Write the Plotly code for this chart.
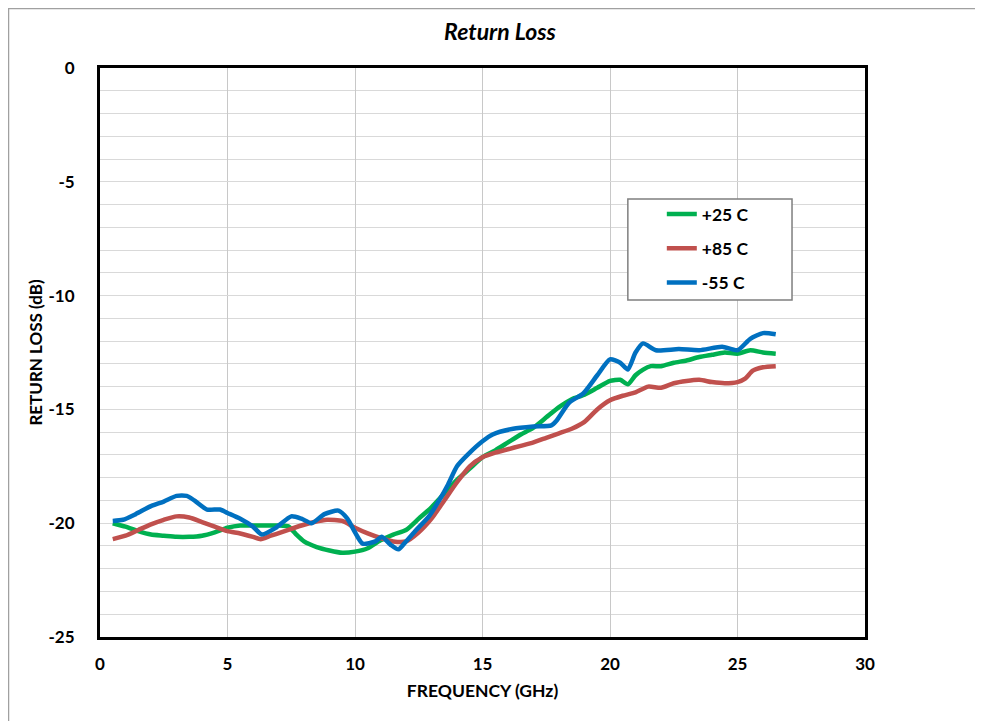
import plotly.graph_objects as go

# ---------------- data ----------------
freq_25 = [0.5, 1.0, 1.5, 2.0, 2.5, 3.0, 3.5, 4.0, 4.5, 5.0, 5.5, 6.0, 6.5, 7.0, 7.4, 7.7, 8.0, 8.5,
           9.0, 9.5, 10.0, 10.5, 11.0, 11.5, 12.0, 12.5, 13.0, 13.5, 14.0, 14.5, 15.0, 15.5, 16.0,
           16.5, 17.0, 17.5, 18.0, 18.5, 19.0, 19.5, 20.0, 20.4, 20.7, 21.0, 21.3, 21.6, 22.0, 22.5,
           23.0, 23.5, 24.0, 24.5, 25.0, 25.5, 26.0, 26.5]
rl_25 = [-20.0, -20.15, -20.35, -20.5, -20.55, -20.6, -20.6, -20.55, -20.4, -20.2, -20.1, -20.1,
         -20.1, -20.1, -20.15, -20.5, -20.8, -21.05, -21.2, -21.3, -21.25, -21.1, -20.75, -20.5,
         -20.3, -19.8, -19.3, -18.7, -18.1, -17.6, -17.1, -16.8, -16.45, -16.1, -15.8, -15.35,
         -14.9, -14.55, -14.35, -14.05, -13.75, -13.7, -13.9, -13.5, -13.25, -13.1, -13.1, -12.95,
         -12.85, -12.7, -12.6, -12.5, -12.55, -12.4, -12.5, -12.55]

freq_85 = [0.5, 1.0, 1.5, 2.0, 2.5, 3.0, 3.5, 4.0, 4.5, 5.0, 5.5, 6.0, 6.3, 6.7, 7.1, 7.5, 7.9, 8.4,
           8.9, 9.5, 10.0, 10.5, 11.0, 11.5, 12.0, 12.5, 13.0, 13.5, 14.0, 14.5, 15.0, 15.5, 16.0,
           16.5, 17.0, 17.5, 18.0, 18.5, 19.0, 19.5, 20.0, 20.5, 21.0, 21.5, 22.0, 22.5, 23.0, 23.5,
           24.0, 24.5, 25.0, 25.3, 25.6, 26.0, 26.5]
rl_85 = [-20.7, -20.55, -20.3, -20.05, -19.85, -19.7, -19.75, -19.95, -20.15, -20.35, -20.45, -20.6,
         -20.7, -20.55, -20.4, -20.25, -20.1, -19.95, -19.85, -19.9, -20.2, -20.45, -20.65, -20.8,
         -20.8, -20.4, -19.8, -19.0, -18.2, -17.5, -17.1, -16.9, -16.75, -16.6, -16.45, -16.25,
         -16.05, -15.85, -15.55, -15.0, -14.6, -14.4, -14.25, -14.0, -14.05, -13.85, -13.75, -13.7,
         -13.8, -13.85, -13.8, -13.65, -13.3, -13.15, -13.1]

freq_m55 = [0.5, 0.9, 1.4, 2.0, 2.5, 3.0, 3.4, 3.7, 4.2, 4.7, 5.0, 5.5, 6.0, 6.35, 6.9, 7.5, 7.9, 8.3,
            8.8, 9.35, 9.7, 10.0, 10.3, 10.8, 11.05, 11.4, 11.7, 12.0, 12.4, 12.9, 13.3, 13.65, 14.0,
            14.5, 15.0, 15.4, 16.2, 17.0, 17.7, 17.9, 18.4, 18.95, 19.5, 20.0, 20.4, 20.7, 21.0, 21.3,
            21.8, 22.7, 23.5, 24.4, 25.0, 25.5, 26.0, 26.5]
rl_m55 = [-19.9, -19.85, -19.6, -19.25, -19.05, -18.8, -18.8, -19.0, -19.4, -19.4, -19.55, -19.8,
          -20.15, -20.5, -20.2, -19.7, -19.8, -20.0, -19.6, -19.45, -19.8, -20.4, -20.9, -20.8,
          -20.6, -20.95, -21.15, -20.8, -20.3, -19.7, -19.0, -18.3, -17.5, -16.9, -16.4, -16.1,
          -15.85, -15.75, -15.7, -15.5, -14.7, -14.3, -13.5, -12.8, -12.95, -13.25, -12.5, -12.1,
          -12.4, -12.35, -12.4, -12.25, -12.4, -11.9, -11.65, -11.7]

series_names = ["+25 C", "+85 C", "-55 C"]
series_colors = ["#00B050", "#C0504D", "#0070C0"]

x_ticks = [0, 5, 10, 15, 20, 25, 30]
y_ticks = [0, -5, -10, -15, -20, -25]
y_tick_text = ["0", "-5", "-10", "-15", "-20", "-25"]

FONT = "Lato"

fig = go.Figure()
for name, fx, fy, col in zip(series_names, [freq_25, freq_85, freq_m55],
                             [rl_25, rl_85, rl_m55], series_colors):
    fig.add_trace(go.Scatter(
        x=fx, y=fy, mode="lines", name=name, legendgroup=name,
        line=dict(color=col, width=4.5, shape="spline", smoothing=0.6),
    ))

fig.update_layout(
    width=983, height=721,
    paper_bgcolor="white", plot_bgcolor="white",
    margin=dict(l=92, r=126, t=60, b=92),
    font=dict(family=FONT, color="black"),
    title=dict(text="<b><i>Return Loss</i></b>", x=0.5005, xref="container",
               y=0.967, yref="container", xanchor="center", yanchor="middle",
               font=dict(size=23, family=FONT, color="black")),
    showlegend=True,
    legend=dict(x=0.7344, y=0.775, xanchor="left", yanchor="top",
                borderwidth=0, bgcolor="rgba(0,0,0,0)",
                font=dict(size=17.5, family=FONT, color="black", weight="bold"),
                tracegroupgap=8.5, itemwidth=30),
    xaxis=dict(range=[0, 30], tickvals=x_ticks, showgrid=True, gridcolor="#c8c8c8", gridwidth=1,
               showline=True, linecolor="black", linewidth=3, mirror=True,
               ticks="", ticklabelstandoff=10, zeroline=False,
               tickfont=dict(size=17, family=FONT, weight="bold"),
               title=dict(text="<b>FREQUENCY (GHz)</b>", standoff=12,
                          font=dict(size=17.5, family=FONT))),
    yaxis=dict(range=[-25, 0], tickvals=y_ticks, ticktext=y_tick_text,
               showgrid=True, gridcolor="#d9d9d9", gridwidth=1,
               minor=dict(dtick=1, showgrid=True, gridcolor="#d9d9d9", gridwidth=1),
               showline=True, linecolor="black", linewidth=3, mirror=True,
               ticks="", ticklabelstandoff=19, zeroline=False,
               tickfont=dict(size=17, family=FONT, weight="bold"),
               title=dict(text="<b>RETURN LOSS (dB)</b>", standoff=2,
                          font=dict(size=17, family=FONT))),
)

# legend frame
fig.add_shape(type="rect", xref="paper", yref="paper",
              x0=0.690, x1=0.9046, y0=0.5923, y1=0.7698,
              line=dict(color="#7f7f7f", width=1.5), fillcolor="white", layer="above")

# outer chart border (only top/left edges fall inside the picture)
fig.add_shape(type="rect", xref="paper", yref="paper",
              x0=-0.1196, x1=1.4, y0=-0.4, y1=1.1046,
              line=dict(color="#a0a0a0", width=1.5), fillcolor="rgba(0,0,0,0)", layer="below")

fig.write_html("out.html")
